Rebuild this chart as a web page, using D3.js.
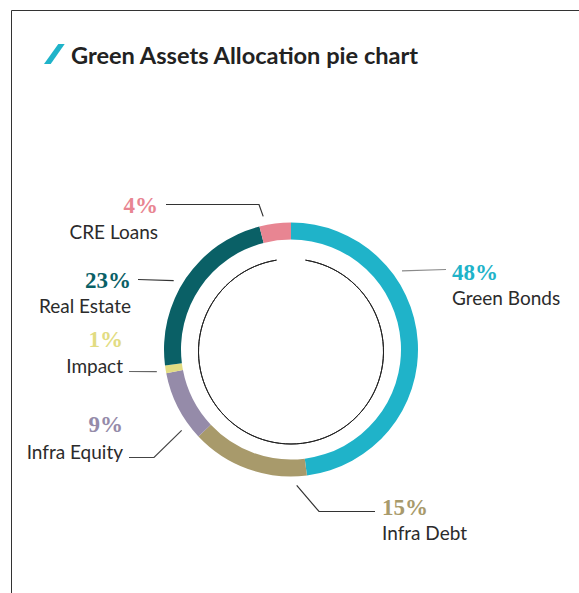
<!DOCTYPE html>
<html>
<head>
<meta charset="utf-8">
<script src="https://cdn.jsdelivr.net/npm/d3@7"></script>
<style>
  html, body { margin: 0; padding: 0; background: #fff; }
  svg { display: block; }
</style>
</head>
<body>
<svg id="chart" width="579" height="593"></svg>
<script>
// Allocation data
const categories = ["Green Bonds", "Infra Debt", "Infra Equity", "Impact", "Real Estate", "CRE Loans"];
const shares = [48, 15, 9, 1, 23, 4];
const colors = ["#1fb3c9", "#a89a6b", "#958ba9", "#e2dc82", "#0a6066", "#e88592"];
const pctLabels = ["48%", "15%", "9%", "1%", "23%", "4%"];

// Callout layout (angles in degrees, offsets relative to ring centre)
const calloutAngle = [54.7, 177.6, 233.5, 260.6, 300.4, 348.2];
const calloutElbow = [null, [28, 162], [-137, 108], null, null, [-32, -145]];
const calloutEnd   = [[155, -80], [84, 162], [-162, 108], [-162, 22], [-153, -70], [-125, -145]];
const calloutText  = [[161, -70, -45], [91, 165, 190], [-168, 82, 109], [-168, -3, 23], [-160, -62, -37], [-133, -137, -111]];
const calloutColor = ["#8a8a8a", "#333", "#444", "#666", "#333", "#333"];

const W = 579, H = 593;
const cx = 291, cy = 349.5;
const outerR = 127, innerR = 110, leaderR = 136;

const svg = d3.select("#chart");

// Frame: top and left rules
svg.append("path")
  .attr("d", `M${W},10.5 H11.5 V${H}`)
  .attr("fill", "none")
  .attr("stroke", "#333")
  .attr("stroke-width", 1);

// Title with slanted accent mark
svg.append("path")
  .attr("d", "M44,64 L50.7,64 L64.7,44 L58.3,44 Z")
  .attr("fill", "#1fb3c9");
svg.append("text")
  .attr("x", 71)
  .attr("y", 64)
  .attr("font-family", "Lato, 'Noto Sans', sans-serif")
  .attr("font-weight", 700)
  .attr("font-size", 23.6)
  .attr("fill", "#222")
  .text("Green Assets Allocation pie chart");

const g = svg.append("g").attr("transform", `translate(${cx},${cy})`);

const pie = d3.pie().sort(null).value(d => d.value);
const data = categories.map((c, i) => ({ name: c, value: shares[i], color: colors[i], pct: pctLabels[i], idx: i }));
const arcs = pie(data);

const arc = d3.arc().innerRadius(innerR).outerRadius(outerR);

g.selectAll("path.slice")
  .data(arcs)
  .join("path")
  .attr("class", "slice")
  .attr("d", arc)
  .attr("fill", d => d.data.color);

// Thin inner circle, open at the top
const innerCircle = d3.arc().innerRadius(92.5).outerRadius(92.5)
  .startAngle(9 * Math.PI / 180).endAngle(351 * Math.PI / 180);
g.append("path")
  .attr("transform", "translate(0,2)")
  .attr("d", innerCircle())
  .attr("fill", "none")
  .attr("stroke", "#222")
  .attr("stroke-width", 1);

// Callout lines and labels
const toRad = a => a * Math.PI / 180;
data.forEach((d, i) => {
  const a = toRad(calloutAngle[i]);
  const start = [leaderR * Math.sin(a), -leaderR * Math.cos(a)];
  const pts = [start];
  if (calloutElbow[i]) pts.push(calloutElbow[i]);
  pts.push(calloutEnd[i]);
  g.append("path")
    .attr("d", d3.line()(pts))
    .attr("fill", "none")
    .attr("stroke", calloutColor[i])
    .attr("stroke-width", 1.2);

  const [tx, py, ny] = calloutText[i];
  const anchor = tx < 0 ? "end" : "start";
  g.append("text")
    .attr("x", tx)
    .attr("y", py)
    .attr("text-anchor", anchor)
    .attr("font-family", "'Liberation Serif', 'DejaVu Serif', serif")
    .attr("font-weight", 700)
    .attr("font-size", 23)
    .attr("fill", d.color)
    .text(d.pct);
  g.append("text")
    .attr("x", tx)
    .attr("y", ny)
    .attr("text-anchor", anchor)
    .attr("font-family", "Lato, 'Noto Sans', sans-serif")
    .attr("font-size", 19)
    .attr("fill", "#2b2b2b")
    .text(d.name);
});
</script>
</body>
</html>
